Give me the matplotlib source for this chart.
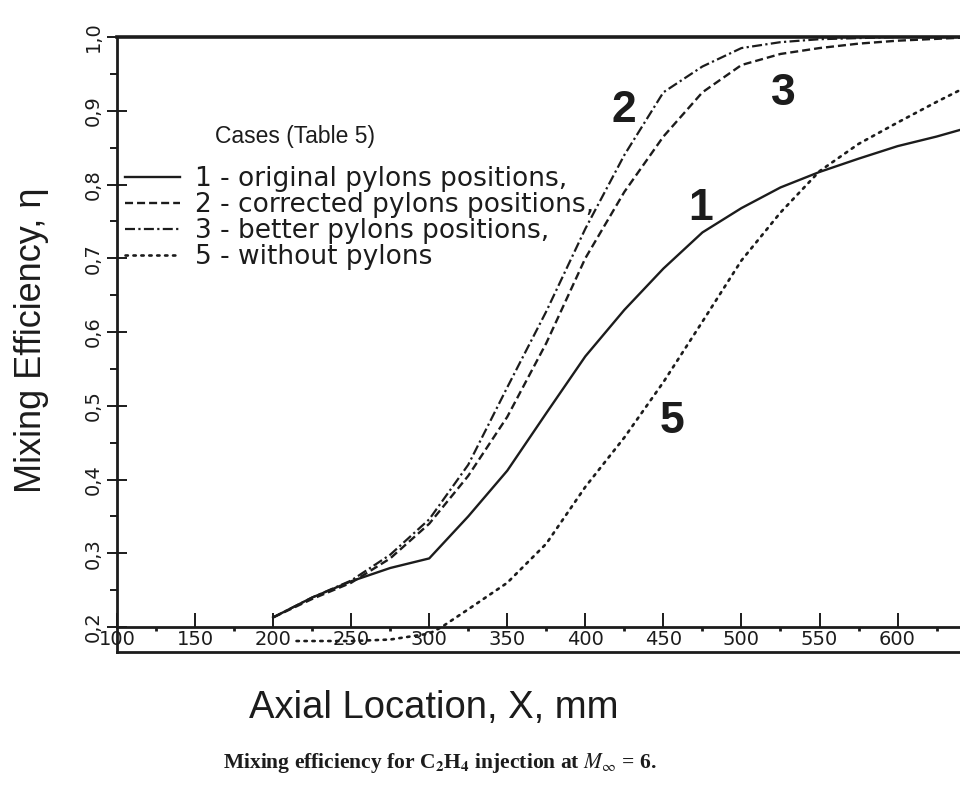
import numpy as np
import matplotlib
matplotlib.use("Agg")
import matplotlib.pyplot as plt
from matplotlib.ticker import MultipleLocator

plt.rcParams['mathtext.fontset'] = 'stix'

# ---------------- data ----------------
x1 = [200, 225, 250, 275, 300, 325, 350, 375, 400, 425, 450, 475, 500, 525, 550, 575, 600, 625, 640]
eta1 = [0.213, 0.240, 0.262, 0.280, 0.293, 0.350, 0.412, 0.490, 0.567, 0.630, 0.686, 0.735, 0.768, 0.796, 0.817, 0.835, 0.852, 0.865, 0.874]

x2 = [200, 225, 250, 275, 300, 325, 350, 375, 400, 425, 450, 475, 500, 525, 550, 575, 600, 640]
eta2 = [0.213, 0.238, 0.260, 0.293, 0.340, 0.405, 0.485, 0.585, 0.700, 0.790, 0.865, 0.925, 0.962, 0.977, 0.985, 0.991, 0.995, 0.999]

x3 = [200, 225, 250, 275, 300, 325, 350, 375, 400, 425, 450, 475, 500, 525, 550, 600, 640]
eta3 = [0.213, 0.240, 0.263, 0.298, 0.346, 0.420, 0.525, 0.628, 0.740, 0.840, 0.925, 0.960, 0.985, 0.993, 0.997, 1.000, 1.000]

x5 = [215, 250, 275, 300, 308, 325, 350, 375, 400, 425, 450, 475, 500, 525, 550, 575, 600, 625, 640]
eta5 = [0.181, 0.181, 0.183, 0.191, 0.200, 0.224, 0.260, 0.313, 0.390, 0.457, 0.532, 0.614, 0.697, 0.762, 0.818, 0.855, 0.884, 0.912, 0.928]

legend_labels = ["1 - original pylons positions,",
                 "2 - corrected pylons positions,",
                 "3 - better pylons positions,",
                 "5 - without pylons"]
curve_tags = ["1", "2", "3", "5"]
tag_pos = {"1": (473.7, 0.768), "2": (424.4, 0.901), "3": (527.0, 0.924), "5": (455.8, 0.479)}

xticks = list(range(100, 601, 50))
xtick_labels = [str(v) for v in xticks]
yticks = [0.2, 0.3, 0.4, 0.5, 0.6, 0.7, 0.8, 0.9, 1.0]
ytick_labels = ["0,2", "0,3", "0,4", "0,5", "0,6", "0,7", "0,8", "0,9", "1,0"]

# ---------------- figure ----------------
W, H = 960, 786
fig = plt.figure(figsize=(W / 100, H / 100), dpi=100)
ax = fig.add_axes([117 / W, 1 - 652 / H, (960 - 117) / W, (652 - 37) / H])

ink = '#1c1c1c'
ymin = 0.2 - 25 / 737.5
ax.set_xlim(100, 640)
ax.set_ylim(ymin, 1.0)

l1, = ax.plot(x1, eta1, color=ink, lw=1.7, ls='-')
l2, = ax.plot(x2, eta2, color=ink, lw=1.7, ls=(0, (3.4, 1.7)))
l3, = ax.plot(x3, eta3, color=ink, lw=1.6, ls=(0, (4.5, 1.5, 1.0, 1.5)))
l5, = ax.plot(x5, eta5, color=ink, lw=1.9, ls=(0, (0.9, 2.1)), dash_capstyle='round')

# spines / frame
for s in ['left', 'bottom', 'top']:
    ax.spines[s].set_color(ink)
ax.spines['right'].set_visible(False)
ax.spines['top'].set_linewidth(2.6)
ax.spines['left'].set_linewidth(2.0)
ax.spines['bottom'].set_linewidth(2.0)
ax.spines['bottom'].set_position(('data', 0.2))
ax.axhline(ymin, color=ink, lw=2.0, clip_on=False)

# ticks
ax.set_xticks(xticks)
ax.set_xticklabels(xtick_labels)
ax.xaxis.set_minor_locator(MultipleLocator(25))
ax.tick_params(axis='x', which='major', direction='in', length=10, width=1.4,
               pad=2, labelsize=14, colors=ink)
ax.tick_params(axis='x', which='minor', direction='out', length=3, width=2, colors=ink)

ax.set_yticks(yticks)
ax.set_yticklabels(ytick_labels, rotation=90, va='center')
ax.yaxis.set_minor_locator(MultipleLocator(0.05))
ax.tick_params(axis='y', which='major', direction='inout', length=14, width=1.4,
               pad=3, labelsize=14, colors=ink)
ax.tick_params(axis='y', which='minor', direction='out', length=5, width=1.4, colors=ink)

# curve tags
for tag in curve_tags:
    tx, ty = tag_pos[tag]
    ax.text(tx, ty, tag, fontsize=32, fontweight='bold', family='Liberation Sans',
            ha='center', va='center', color=ink)

# legend
leg = ax.legend([l1, l2, l3, l5], legend_labels, loc='upper left',
                bbox_to_anchor=(125 / W, 1 - 166 / H), bbox_transform=fig.transFigure,
                frameon=False, prop={'family': 'DejaVu Sans', 'size': 19},
                handlelength=2.1, handletextpad=0.55, labelspacing=0.0,
                borderpad=0, borderaxespad=0)
for t in leg.get_texts():
    t.set_color(ink)

fig.text(215 / W, 1 - 137 / H, "Cases (Table 5)", fontsize=16.5, family='Liberation Sans',
         va='center', ha='left', color=ink)

# axis titles and caption
fig.text(32 / W, 1 - 340 / H, "Mixing Efficiency, η", rotation=90, fontsize=26,
         family='Liberation Sans', ha='center', va='center', color=ink)
fig.text(434 / W, 1 - 708 / H, "Axial Location, X, mm", fontsize=27.5,
         family='Liberation Sans', ha='center', va='center', color=ink)
fig.text(440 / W, 1 - 763 / H,
         r"Mixing efficiency for C$_\mathbf{2}$H$_\mathbf{4}$ injection at $M_{\infty}$ = 6.",
         fontsize=15.5, family='Liberation Serif', fontweight='bold',
         ha='center', va='center', color=ink)

fig.savefig("out.png", dpi=100)
